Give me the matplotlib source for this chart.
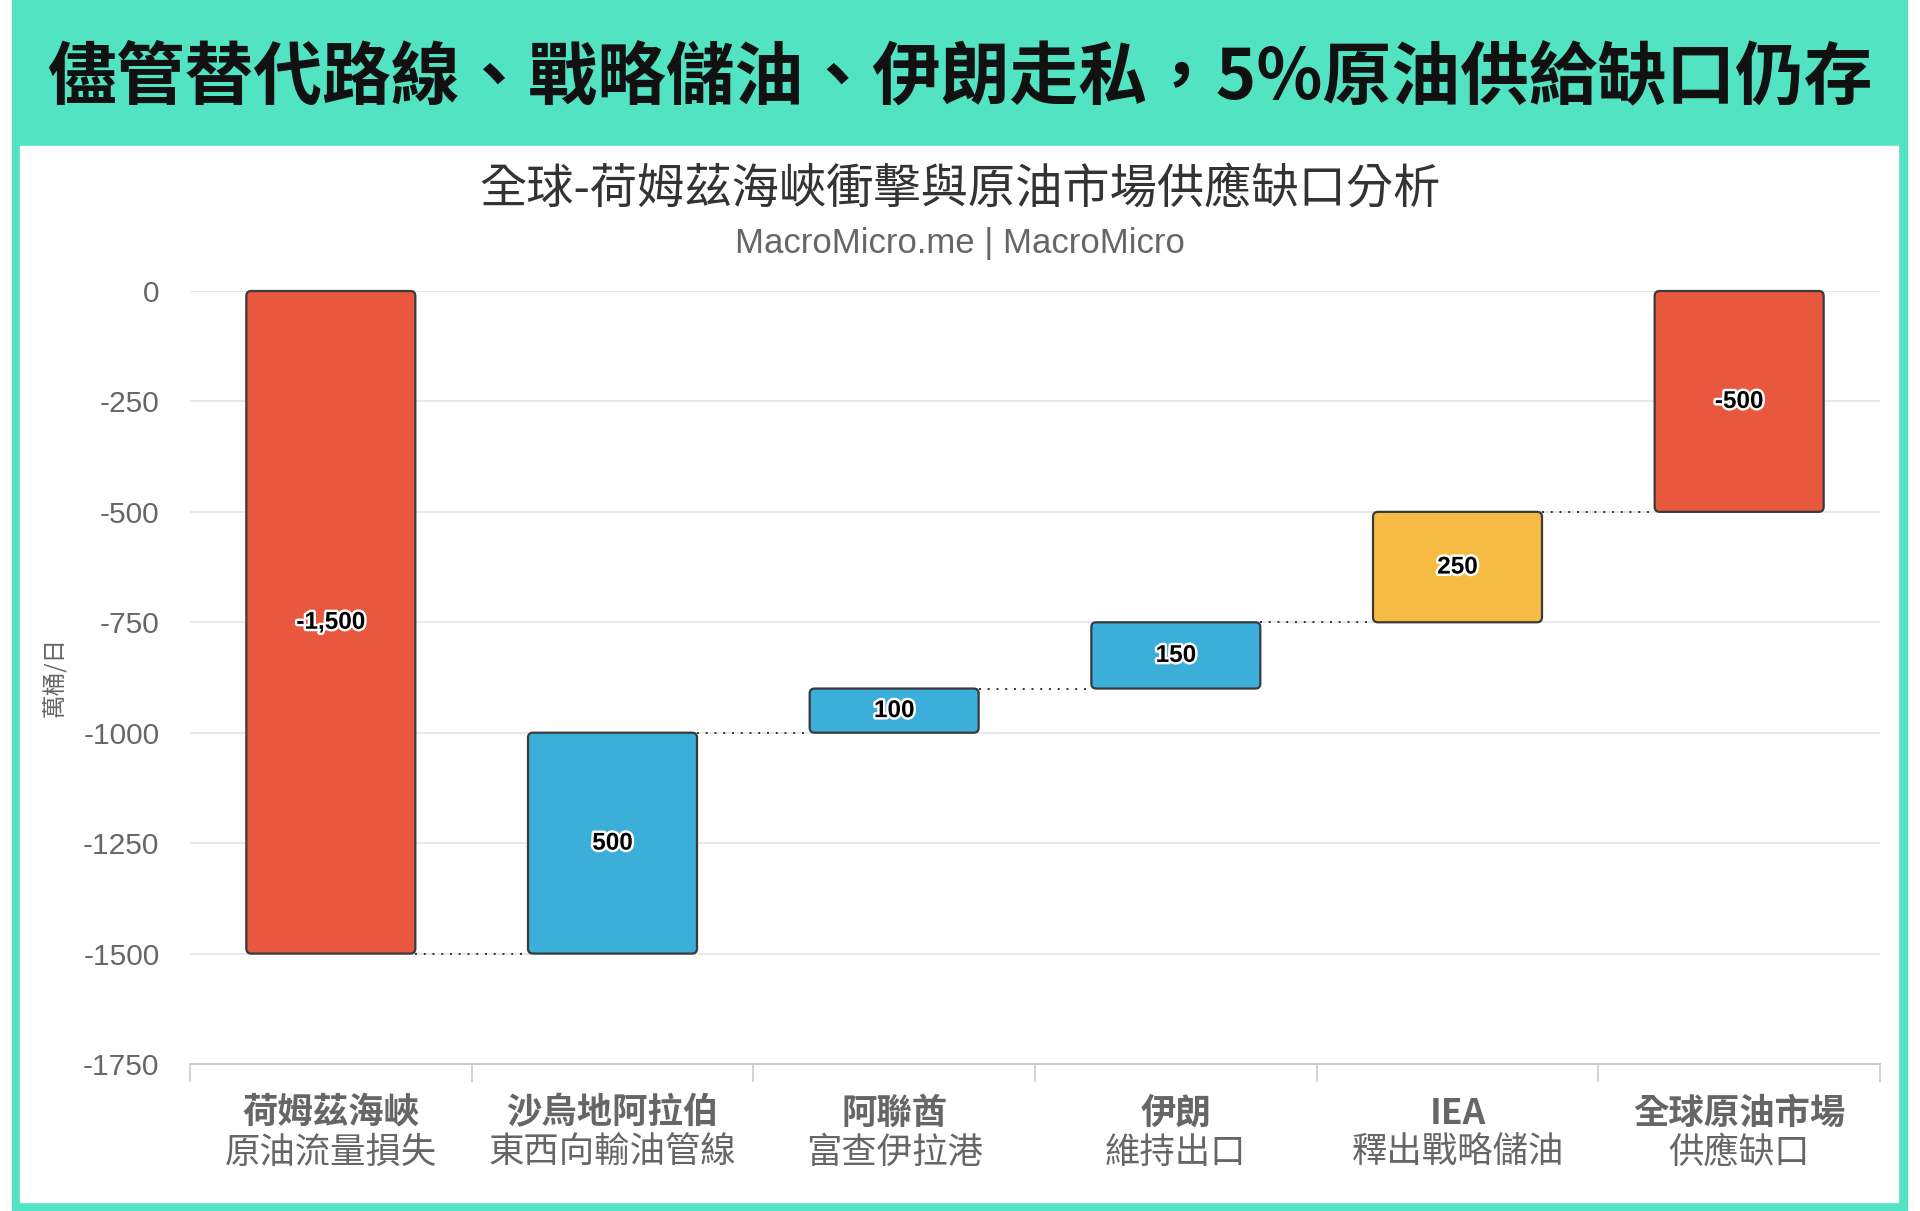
import matplotlib
matplotlib.use("Agg")
import matplotlib.pyplot as plt
import matplotlib.patheffects as pe
from matplotlib.patches import Rectangle, FancyBboxPatch
import numpy as np

plt.rcParams['font.family'] = ['Noto Sans CJK TC', 'DejaVu Sans']
LATIN = ['Liberation Sans', 'Noto Sans CJK TC']

# --- Data ---
headline = "儘管替代路線、戰略儲油、伊朗走私，5%原油供給缺口仍存"
chart_title = "全球-荷姆茲海峽衝擊與原油市場供應缺口分析"
chart_source = "MacroMicro.me | MacroMicro"
y_unit = "萬桶/日"

cat_main = ["荷姆茲海峽", "沙烏地阿拉伯", "阿聯酋", "伊朗", "IEA", "全球原油市場"]
cat_sub = ["原油流量損失", "東西向輸油管線", "富查伊拉港", "維持出口", "釋出戰略儲油", "供應缺口"]
changes = [-1500, 500, 100, 150, 250]
bar_kind = ["loss", "offset", "offset", "offset", "reserve", "total"]
y_ticks = [0, -250, -500, -750, -1000, -1250, -1500, -1750]

kind_color = {"loss": "#E8583F", "offset": "#3BAED9", "reserve": "#F5BB43", "total": "#E8583F"}
TEAL = "#52E3C2"

# --- Waterfall geometry ---
starts, ends = [], []
running = 0
for c in changes:
    starts.append(running)
    running += c
    ends.append(running)
starts.append(0)
ends.append(running)
values = changes + [running]

# --- Figure ---
W, H = 1920, 1211
fig = plt.figure(figsize=(W / 100, H / 100), dpi=100)
fig.patch.set_facecolor("white")


def fx(px):
    return px / W


def fy(px):
    return 1 - px / H


# frame + header band
fig.patches.append(Rectangle((fx(12), fy(1210)), fx(1907 - 12), (1210) / H,
                             transform=fig.transFigure, color=TEAL, zorder=-3))
fig.patches.append(Rectangle((fx(20), fy(1202)), fx(1898 - 20), (1202 - 146) / H,
                             transform=fig.transFigure, color="white", zorder=-2))

fig.text(fx(960), fy(78), headline, ha="center", va="center",
         fontsize=49.5, fontweight="bold", color="#111111")
fig.text(fx(960), fy(190), chart_title, ha="center", va="center",
         fontsize=34, color="#333333")
fig.text(fx(960), fy(244), chart_source, ha="center", va="center",
         fontsize=25, color="#666666", family=LATIN)
fig.text(fx(55), fy(677), y_unit, ha="center", va="center", rotation=90,
         fontsize=17, color="#666666")

ax_l, ax_r, ax_t, ax_b = 190, 1880, 291, 1064
ax = fig.add_axes([fx(ax_l), fy(ax_b), fx(ax_r - ax_l), (ax_b - ax_t) / H])
ax.set_xlim(-0.5, len(cat_main) - 0.5)
ax.set_ylim(-1750, 0)

# rounding correction for non-square data units
px_x = (ax_r - ax_l) / len(cat_main)
px_y = (ax_b - ax_t) / 1750
aspect = px_x / px_y
bar_w = 0.6
rad = 5 / px_x

for i, (s, e, v, k) in enumerate(zip(starts, ends, values, bar_kind)):
    lo, hi = min(s, e), max(s, e)
    box = FancyBboxPatch((i - bar_w / 2, lo), bar_w, hi - lo,
                         boxstyle=f"round,pad=0,rounding_size={rad}",
                         mutation_aspect=aspect,
                         facecolor=kind_color[k], edgecolor="#3a3a3a",
                         linewidth=1.6, zorder=3, clip_on=False)
    ax.add_patch(box)
    ax.text(i, (lo + hi) / 2, f"{v:,}", ha="center", va="center",
            fontsize=17.5, fontweight="bold", color="black", zorder=5, family=LATIN,
            path_effects=[pe.withStroke(linewidth=3.5, foreground="white")])

# connectors
for i in range(len(values) - 1):
    level = ends[i]
    ax.plot([i + bar_w / 2, i + 1 - bar_w / 2], [level, level],
            linestyle=(0, (1, 3.5)), color="#333333", linewidth=1.4, zorder=2)

# axes styling
ax.set_yticks(y_ticks)
ax.set_yticklabels([str(t) for t in y_ticks], family=LATIN)
ax.tick_params(axis="y", length=0, pad=22, labelsize=21.5, labelcolor="#666666")
ax.grid(axis="y", color="#e6e6e6", linewidth=1.3, zorder=0)
ax.set_axisbelow(True)
for side in ["top", "right", "left"]:
    ax.spines[side].set_visible(False)
ax.spines["bottom"].set_color("#cccccc")
ax.spines["bottom"].set_linewidth(1.5)

ax.set_xticks(np.arange(-0.5, len(cat_main)))
ax.set_xticklabels([])
ax.tick_params(axis="x", length=13, width=1.2, color="#cccccc")

for i, (m, s) in enumerate(zip(cat_main, cat_sub)):
    ax.text(i, -49 / (ax_b - ax_t), m, transform=ax.get_xaxis_transform(),
            ha="center", va="center", fontsize=25.5, fontweight="bold", color="#666666")
    ax.text(i, -89 / (ax_b - ax_t), s, transform=ax.get_xaxis_transform(),
            ha="center", va="center", fontsize=25.5, color="#666666")

fig.savefig("out.png", dpi=100)
